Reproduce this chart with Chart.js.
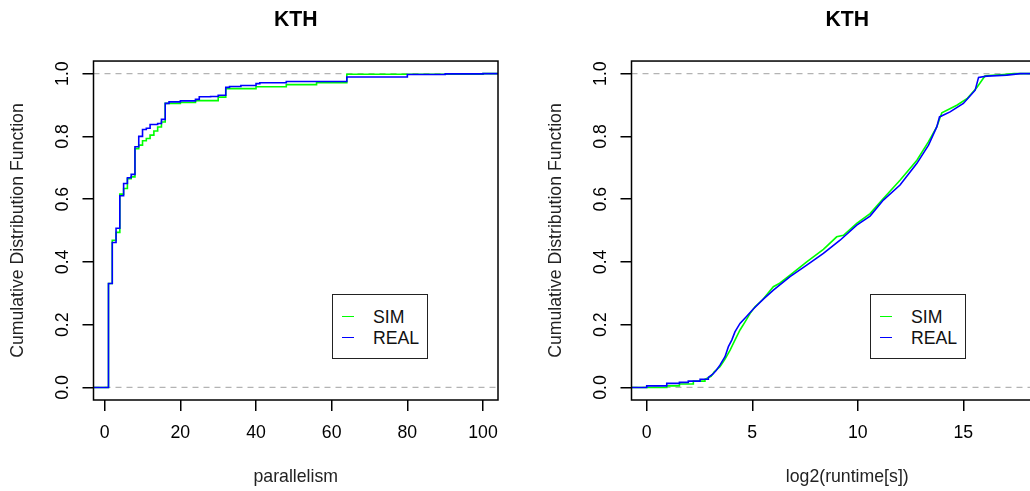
<!DOCTYPE html>
<html>
<head>
<meta charset="utf-8">
<script src="https://cdn.jsdelivr.net/npm/chart.js@4.4.0/dist/chart.umd.min.js"></script>
<style>
  html, body { margin: 0; padding: 0; background: #fff; overflow: hidden; }
  #wrap { position: relative; width: 1030px; height: 491px; overflow: hidden; }
  #wrap canvas { position: absolute; top: 0; }
  .legend { position: absolute; top: 294px; width: 94px; height: 63px; border: 1px solid #222; background: #fff;
            font: 17.7px "Liberation Sans", Arial, sans-serif; color: #111; }
  .legend span { position: absolute; left: 40px; height: 20px; line-height: 20px; margin-top: -10px; white-space: nowrap; }
  .legend i { position: absolute; left: 9px; width: 12px; height: 1px; }
</style>
</head>
<body>
<div id="wrap">
  <canvas id="c1" width="538" height="491" style="left:0"></canvas>
  <canvas id="c2" width="565" height="491" style="left:538px"></canvas>
  <div class="legend" style="left:332px">
    <i style="top:21px;background:#00ff00"></i><span style="top:22px">SIM</span>
    <i style="top:42px;background:#0000ff"></i><span style="top:43px">REAL</span>
  </div>
  <div class="legend" style="left:870px">
    <i style="top:21px;background:#00ff00"></i><span style="top:22px">SIM</span>
    <i style="top:42px;background:#0000ff"></i><span style="top:43px">REAL</span>
  </div>
</div>
<script>
const FONT = '"Liberation Sans", Arial, sans-serif';
const FS = 17.7;

const yTicks   = [0, 0.2, 0.4, 0.6, 0.8, 1.0];
const parTicks = [0, 20, 40, 60, 80, 100];
const runTicks = [0, 5, 10, 15];
const parRange = [-2.96, 103.96];
const runRange = [-0.72, 19.72];

// ECDF of parallelism (step positions and heights)
const parSimX  = [1, 2, 3, 4, 5, 6, 7, 8, 9, 10, 11, 12, 13, 14, 15, 16, 20, 24, 30, 32, 40, 48, 56, 64, 100];
const parSimY  = [0.331, 0.469, 0.494, 0.616, 0.634, 0.665, 0.671, 0.761, 0.772, 0.786, 0.793, 0.804, 0.817, 0.830,
                  0.846, 0.905, 0.908, 0.914, 0.925, 0.952, 0.958, 0.965, 0.971, 0.998, 1.0];
const parRealX = [1, 2, 3, 4, 5, 6, 7, 8, 9, 10, 11, 12, 14, 15, 16, 17, 20, 24, 25, 28, 30, 32, 33, 36, 40, 41,
                  48, 64, 80, 90, 100];
const parRealY = [0.331, 0.462, 0.507, 0.611, 0.650, 0.668, 0.679, 0.767, 0.800, 0.822, 0.826, 0.838, 0.841, 0.854,
                  0.905, 0.910, 0.913, 0.918, 0.926, 0.927, 0.931, 0.956, 0.959, 0.962, 0.968, 0.971, 0.975, 0.989,
                  0.997, 0.999, 1.0];

// ECDF of log2(runtime) (dense steps, traced as a path)
const runSimX  = [0.95, 0.95, 1.55, 1.55, 2.21, 2.21, 2.76, 2.76, 3.05, 3.2, 3.47, 3.71, 3.95, 4.18, 4.42, 4.66, 4.9,
                  5.13, 5.5, 6.0, 6.3, 6.79, 7.58, 8.37, 9.0, 9.32, 9.95, 10.58, 11.21, 12.0, 12.8, 13.35, 13.74,
                  13.98, 14.69, 15.17, 15.64, 15.88, 16.03, 16.9, 17.4];
const runSimY  = [0, 0.005, 0.005, 0.011, 0.011, 0.02, 0.02, 0.026, 0.035, 0.05, 0.066, 0.09, 0.119, 0.151, 0.183,
                  0.209, 0.236, 0.257, 0.28, 0.321, 0.332, 0.358, 0.40, 0.44, 0.48, 0.485, 0.523, 0.554, 0.602, 0.66,
                  0.724, 0.783, 0.83, 0.875, 0.899, 0.92, 0.956, 0.979, 0.993, 0.997, 1.0];
const runRealX = [0, 0, 0.95, 0.95, 1.55, 1.55, 1.97, 1.97, 2.53, 2.53, 2.92, 2.92, 3.13, 3.28, 3.47, 3.71, 3.87, 4.03,
                  4.18, 4.42, 4.74, 5.05, 5.5, 6.0, 6.79, 7.58, 8.37, 9.16, 9.95, 10.58, 11.21, 12.0, 12.8, 13.35,
                  13.74, 13.87, 14.37, 15.0, 15.56, 15.72, 16.11, 17.06, 17.69];
const runRealY = [0, 0.005, 0.005, 0.013, 0.013, 0.016, 0.016, 0.020, 0.020, 0.026, 0.026, 0.032, 0.042, 0.053, 0.071,
                  0.098, 0.13, 0.151, 0.177, 0.204, 0.227, 0.25, 0.28, 0.31, 0.353, 0.39, 0.427, 0.469, 0.517, 0.546,
                  0.597, 0.645, 0.714, 0.772, 0.83, 0.862, 0.878, 0.905, 0.947, 0.988, 0.992, 0.995, 1.0];

function ecdfPoints(xs, ys, range) {
  return [{x: range[0], y: 0}, ...xs.map((x, i) => ({x, y: ys[i]})), {x: range[1], y: 1}];
}

// box around the plot region + rotated y tick labels, R style
const rParts = {
  id: 'rParts',
  afterDraw(chart) {
    const {ctx, chartArea: a, scales: {y}} = chart;
    ctx.save();
    ctx.strokeStyle = '#000';
    ctx.lineWidth = 1.5;
    ctx.strokeRect(a.left, a.top, a.right - a.left, a.bottom - a.top);
    ctx.fillStyle = '#000';
    ctx.font = FS + 'px ' + FONT;
    ctx.textAlign = 'center';
    ctx.textBaseline = 'middle';
    y.ticks.forEach(t => {
      ctx.save();
      ctx.translate(a.left - 30, y.getPixelForValue(t.value));
      ctx.rotate(-Math.PI / 2);
      ctx.fillText(t.value.toFixed(1), 0, 0);
      ctx.restore();
    });
    ctx.restore();
  }
};

function makeChart(id, sim, real, range, xTicks, xTitle) {
  const refLine = v => ({
    data: [{x: range[0], y: v}, {x: range[1], y: v}],
    borderColor: '#b3b3b3', borderWidth: 1.2, borderDash: [6, 5], order: 3
  });
  return new Chart(document.getElementById(id), {
    type: 'line',
    data: {
      datasets: [
        {label: 'REAL', data: real.pts, stepped: real.stepped, borderColor: '#0000ff', borderWidth: 1.6, order: 0},
        {label: 'SIM',  data: sim.pts,  stepped: sim.stepped,  borderColor: '#00ff00', borderWidth: 1.6, order: 1},
        refLine(0), refLine(1)
      ]
    },
    options: {
      responsive: false,
      animation: false,
      events: [],
      layout: {padding: {left: 0, right: 40, top: 0, bottom: 0}},
      elements: {point: {radius: 0}, line: {tension: 0}},
      plugins: {
        legend: {display: false},
        tooltip: {enabled: false},
        title: {
          display: true, text: 'KTH', fullSize: false, color: '#000',
          font: {family: FONT, size: 21.2, weight: 'bold'},
          padding: {top: 7.3, bottom: 28.3}
        }
      },
      scales: {
        x: {
          type: 'linear', min: range[0], max: range[1],
          afterBuildTicks: s => { s.ticks = xTicks.map(v => ({value: v})); },
          afterFit: s => { s.height = 91; },
          grid: {drawOnChartArea: false, drawTicks: true, tickLength: 11, color: '#000', lineWidth: 1.5},
          border: {display: false},
          ticks: {color: '#000', font: {family: FONT, size: FS}, padding: 11.4, maxRotation: 0, autoSkip: false},
          title: {display: true, text: xTitle, color: '#222', font: {family: FONT, size: FS}, padding: {bottom: 3.7}}
        },
        y: {
          type: 'linear', min: -0.04, max: 1.04,
          afterBuildTicks: s => { s.ticks = yTicks.map(v => ({value: v})); },
          afterFit: s => { s.width = 93.5; },
          grid: {drawOnChartArea: false, drawTicks: true, tickLength: 11, color: '#000', lineWidth: 1.5},
          border: {display: false},
          ticks: {display: false},
          title: {display: true, text: 'Cumulative Distribution Function', color: '#222',
                  font: {family: FONT, size: FS}, padding: {top: 7.4}}
        }
      }
    },
    plugins: [rParts]
  });
}

makeChart('c1',
  {pts: ecdfPoints(parSimX, parSimY, parRange), stepped: 'before'},
  {pts: ecdfPoints(parRealX, parRealY, parRange), stepped: 'before'},
  parRange, parTicks, 'parallelism');

makeChart('c2',
  {pts: ecdfPoints(runSimX, runSimY, runRange), stepped: false},
  {pts: ecdfPoints(runRealX, runRealY, runRange), stepped: false},
  runRange, runTicks, 'log2(runtime[s])');
</script>
</body>
</html>
